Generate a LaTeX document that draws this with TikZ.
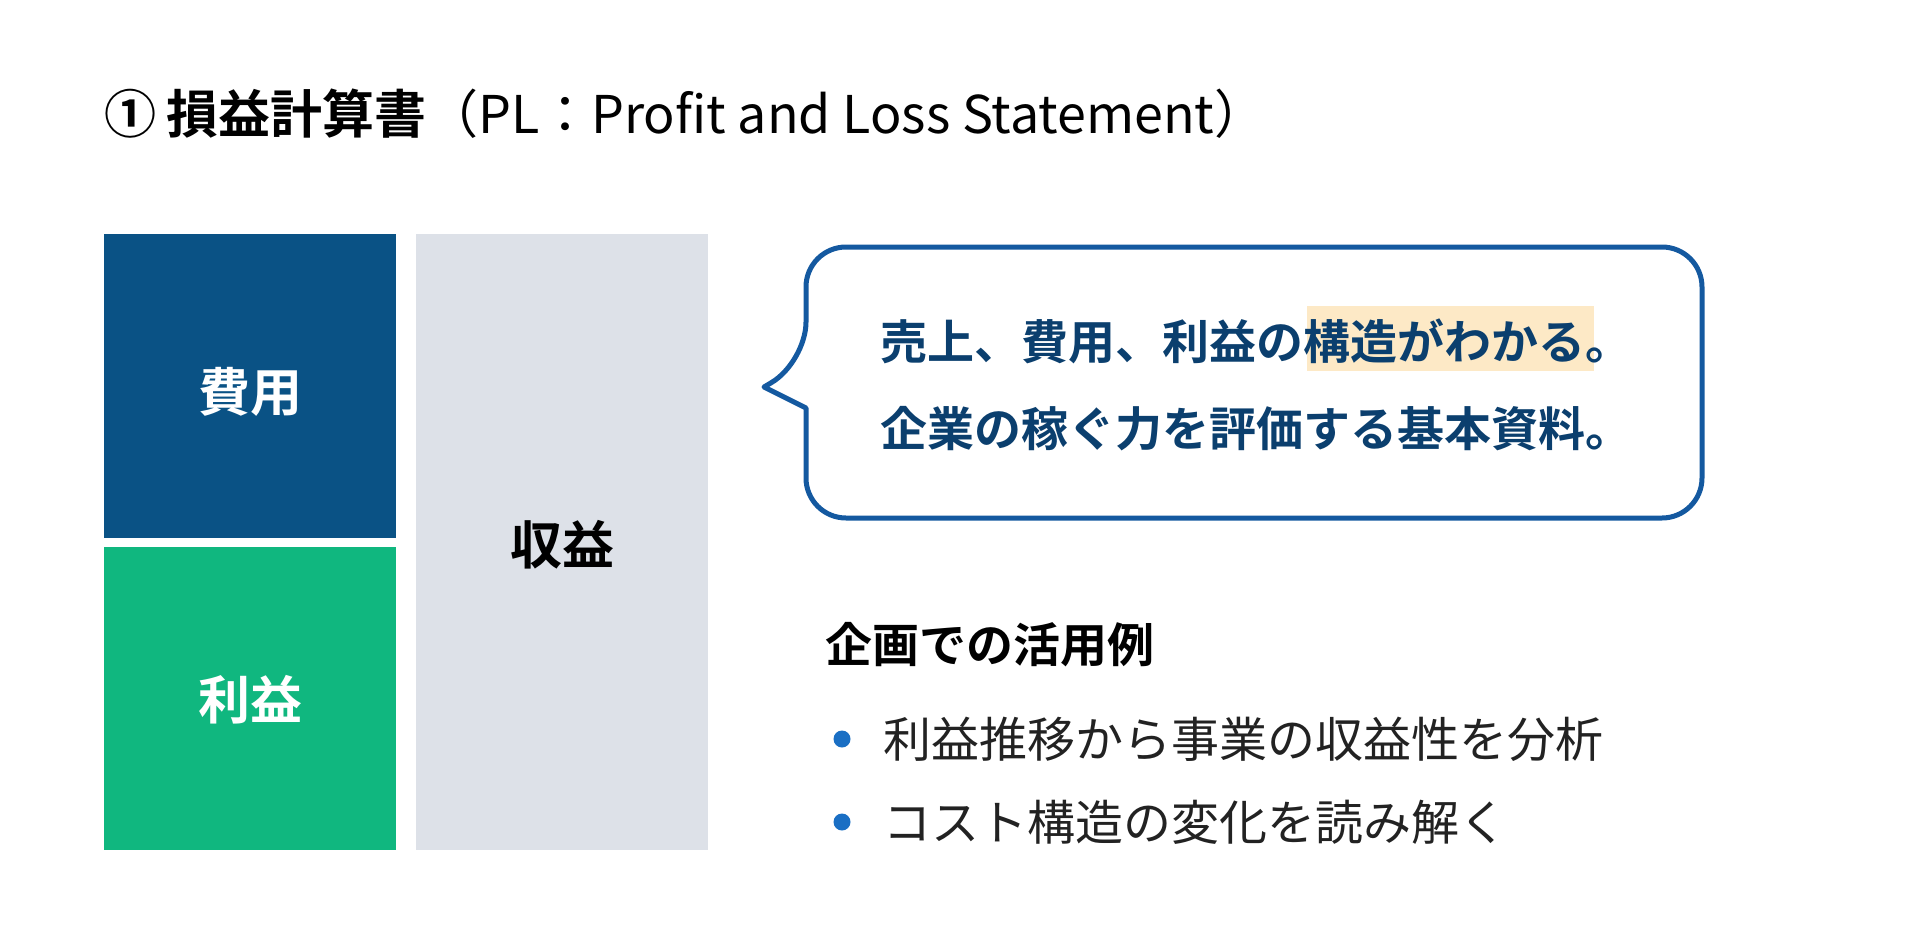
\documentclass[tikz,border=0pt]{standalone}
\usepackage{fontspec}
\setmainfont{Noto Sans CJK JP}[BoldFont={Noto Sans CJK JP Bold}]
\usetikzlibrary{positioning}
\definecolor{costblue}{HTML}{0A5285}
\definecolor{profitgreen}{HTML}{10B77F}
\definecolor{revgray}{HTML}{DDE1E8}
\definecolor{bubbleline}{HTML}{1459A0}
\definecolor{bubbletext}{HTML}{0B3F6E}
\definecolor{hilite}{HTML}{FDE9C6}
\definecolor{dotblue}{HTML}{1A6FC4}
\definecolor{bodytext}{HTML}{222222}
\tikzset{
  block/.style={inner sep=0pt},
  blocklabel/.style={font=\fontsize{52}{60}\selectfont\bfseries},
  bubblestyle/.style={draw=bubbleline,line width=5pt,fill=white,line join=round},
  bubbleline/.style={anchor=west,inner sep=0pt,text=bubbletext,font=\fontsize{47}{56}\selectfont\bfseries},
  item/.style={anchor=west,inner sep=0pt,text=bodytext,font=\fontsize{48}{56}\selectfont},
  dot/.style={circle,fill=dotblue,inner sep=0pt,minimum size=17pt}
}
\begin{document}
\begin{tikzpicture}[x=1pt,y=-1pt]
	\useasboundingbox (0,0) rectangle (1920,942);
	%title
	\node[anchor=west,inner sep=0pt,font=\fontsize{52}{60}\selectfont] (title) at (104,114)
		{\textbf{①\hspace{10pt}損益計算書}（PL：Profit and Loss Statement）};
	
	%PL blocks
	\fill[costblue] (104,234) rectangle (396,538);
	\fill[profitgreen] (104,547) rectangle (396,850);
	\fill[revgray] (416,234) rectangle (708,850);
	\node[blocklabel,text=white] (cost) at (250,392) {費用};
	\node[blocklabel,text=white] (profit) at (250,700) {利益};
	\node[blocklabel] (revenue) at (562,545) {収益};
	
	%speech bubble
	\draw[bubblestyle,rounded corners=40pt] (806,450) -- (806,518) -- (1702,518) -- (1702,247)
		-- (806,247) -- (806,362) [sharp corners] -- (764,387) -- (806,408) -- cycle;
	\fill[hilite] (1307,306) rectangle (1594,371);
	\node[bubbleline] (lineA) at (880,341) {売上、費用、利益の構造がわかる。};
	\node[bubbleline] (lineB) at (880,429) {企業の稼ぐ力を評価する基本資料。};
	
	%use cases
	\node[anchor=west,inner sep=0pt,font=\fontsize{47}{56}\selectfont\bfseries] (usehead) at (825,645) {企画での活用例};
	\node[dot] (dotA) at (842,739) {};
	\node[item] (itemA) at (883,739) {利益推移から事業の収益性を分析};
	\node[dot] (dotB) at (842,822) {};
	\node[item] (itemB) at (883,822) {コスト構造の変化を読み解く};
\end{tikzpicture}
\end{document}
